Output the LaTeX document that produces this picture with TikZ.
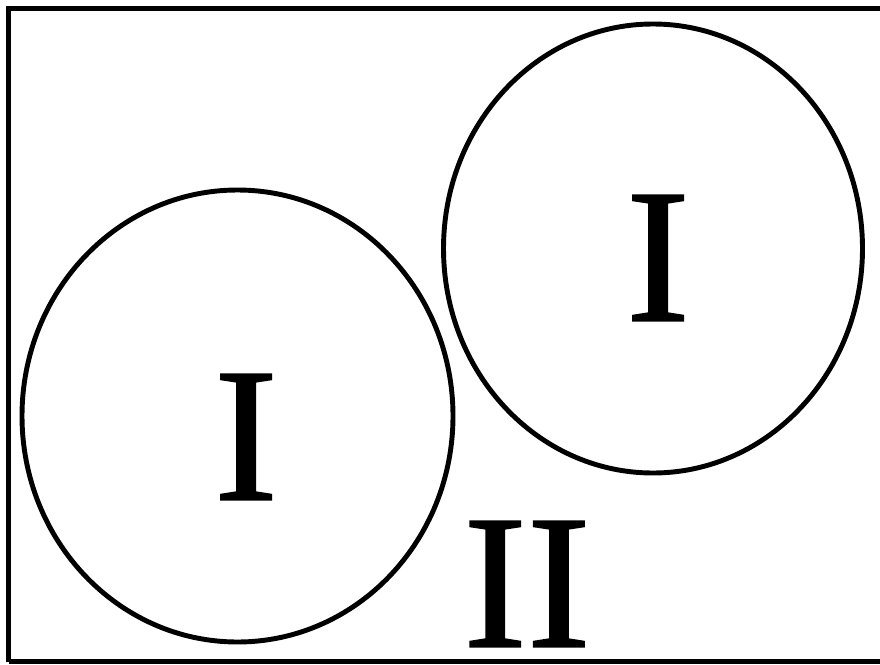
\documentclass[tikz,border=0pt]{standalone}
\usepackage{fontspec}
\setmainfont{Liberation Serif}
\newfontfamily\romfont[FakeBold=1]{Liberation Serif}
\usetikzlibrary{positioning}

\begin{document}
\begin{tikzpicture}[
  x=0.025cm,y=-0.025cm,
  edge/.style={draw=black,line width=3.5pt},
  lbl/.style={font=\romfont\fontsize{136}{136}\selectfont,inner sep=0pt,anchor=center}]
\useasboundingbox (0,0) rectangle (880,664);

% universe
\draw[edge] (8.5,661.5) -- (8.5,8.5) -- (900,8.5);
\draw[edge] (8.5,661.5) -- (900,661.5);

% the two sets
\draw[edge] (237.5,416) ellipse [x radius=215.5,y radius=226];
\draw[edge] (653,248.5) ellipse [x radius=209.5,y radius=224.5];

\node[lbl] (oneA) at (246,437) {I};
\node[lbl] (oneB) at (658,258) {I};
\node[lbl] (two) at (527,584) {II};
\end{tikzpicture}
\end{document}
